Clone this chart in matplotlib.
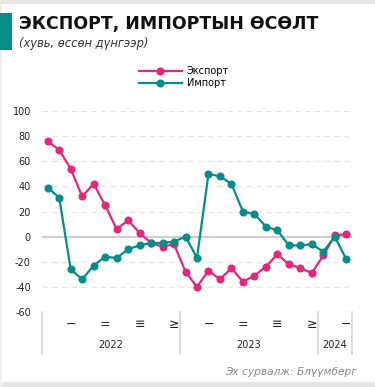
import matplotlib
matplotlib.use("Agg")
import matplotlib.pyplot as plt
from matplotlib.patches import Rectangle
from matplotlib.lines import Line2D

plt.rcParams["axes.unicode_minus"] = False

# Monthly growth, % year over year (Jan 2022 – Mar 2024)
export_growth = [76, 69, 54, 32, 42, 25, 6, 13, 3, -5, -8, -6,
                 -28, -40, -27, -34, -25, -36, -31, -24, -14, -22, -25, -29,
                 -15, 1, 2]
import_growth = [39, 31, -26, -34, -23, -16, -17, -10, -7, -5, -5, -4,
                 0, -17, 50, 48, 42, 20, 18, 8, 5, -7, -7, -6,
                 -12, 0, -18]
years = ["2022", "2023", "2024"]
months_per_year = [12, 12, 3]
quarter_labels = ["−", "=", "≡", "≥"]

title = "ЭКСПОРТ, ИМПОРТЫН ӨСӨЛТ"
subtitle = "(хувь, өссөн дүнгээр)"
source = "Эх сурвалж: Блүүмберг"
series_names = ["Экспорт", "Импорт"]

PINK = "#e5277a"
TEAL = "#078c8c"

W, H = 375, 387
fig = plt.figure(figsize=(W / 100, H / 100), dpi=100)
fig.patch.set_facecolor("white")

# card frame strips and title accent bar
fig.add_artist(Rectangle((0, 1 - 4 / H), 1, 4 / H, transform=fig.transFigure,
                         color="#e6e6e6", lw=0))
fig.add_artist(Rectangle((0, 0), 1, 5 / H, transform=fig.transFigure,
                         color="#e6e6e6", lw=0))
fig.add_artist(Rectangle((0, 0), 2 / W, 1, transform=fig.transFigure,
                         color="#eeeeee", lw=0))
fig.add_artist(Rectangle((0, 1 - 50 / H), 12 / W, 37 / H, transform=fig.transFigure,
                         color=TEAL, lw=0))

fig.text(19 / W, 1 - 24 / H, title, fontsize=12.5, fontweight="bold",
         color="#111111", va="center", ha="left")
fig.text(19 / W, 1 - 43 / H, subtitle, fontsize=8.3, fontstyle="italic",
         color="#333333", va="center", ha="left")
fig.text(357 / W, 1 - 372 / H, source, fontsize=7.7, fontstyle="italic",
         color="#8a8a8a", va="center", ha="right")

ax = fig.add_axes([42 / W, 1 - 312 / H, 310 / W, 201 / H])
n = len(export_growth)
x = list(range(n))

ax.set_ylim(-60, 100)
ax.set_xlim(-0.5, n - 0.5)
ax.set_yticks(range(-60, 101, 20))
ax.tick_params(axis="y", length=0, labelsize=7, pad=8, labelcolor="#222222")
for yv in range(-60, 101, 20):
    if yv == 0:
        ax.axhline(yv, color="#cfcfcf", lw=1.6, zorder=1)
    else:
        ax.axhline(yv, color="#e6e6e6", lw=1.0, ls=(0, (4, 3)), zorder=1)
for s in ax.spines.values():
    s.set_visible(False)
ax.set_xticks([])

ax.plot(x, export_growth, color=PINK, lw=1.6, marker="o", ms=4.8,
        zorder=3, label=series_names[0])
ax.plot(x, import_growth, color=TEAL, lw=1.6, marker="o", ms=4.8,
        zorder=4, label=series_names[1])

# category axis: quarters and years with group separators
trans = ax.get_xaxis_transform()
start = 0
bounds = [-0.5]
for yr, cnt in zip(years, months_per_year):
    end = start + cnt
    for q in range(cnt // 3):
        xi = start + q * 3 + 2
        ax.text(xi, -0.06, quarter_labels[q], transform=trans, ha="center",
                va="center", fontsize=9, color="#222222")
    ax.text((start + end - 1) / 2, -0.165, yr, transform=trans, ha="center",
            va="center", fontsize=7, color="#222222")
    bounds.append(end - 0.5)
    start = end
for b in bounds:
    ax.add_line(Line2D([b, b], [0, -0.21], transform=trans, color="#d6d6d6",
                       lw=1.2, clip_on=False))

ax.legend(loc="upper left", bbox_to_anchor=(97 / 310, 1 + 45 / 201),
          frameon=False, fontsize=7, handlelength=4.4, handletextpad=0.5,
          labelspacing=0.2, borderaxespad=0, borderpad=0)

fig.savefig("out.png", dpi=100, facecolor="white")
